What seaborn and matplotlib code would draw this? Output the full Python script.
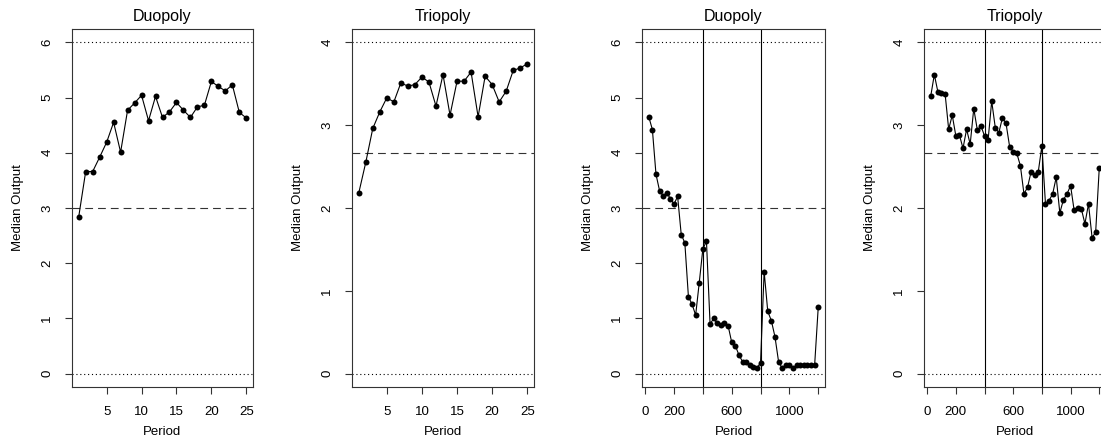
import numpy as np
import pandas as pd
import matplotlib
matplotlib.use("Agg")
import matplotlib.pyplot as plt
import seaborn as sns

# short runs: periods 1..25
short_periods = list(range(1, 26))
duo_short = [2.84, 3.66, 3.66, 3.92, 4.19, 4.55, 4.01, 4.77, 4.90, 5.04,
             4.58, 5.02, 4.64, 4.74, 4.91, 4.77, 4.64, 4.83, 4.86, 5.29,
             5.20, 5.12, 5.23, 4.73, 4.63]
tri_short = [2.18, 2.55, 2.96, 3.16, 3.33, 3.28, 3.51, 3.47, 3.49, 3.58,
             3.52, 3.23, 3.61, 3.12, 3.53, 3.53, 3.64, 3.10, 3.59, 3.49,
             3.28, 3.41, 3.66, 3.69, 3.74]

# long runs: periods 25..1200, every 25
long_periods = list(range(25, 1201, 25))
duo_long = [4.65, 4.42, 3.61, 3.31, 3.22, 3.27, 3.17, 3.07, 3.21, 2.52,
            2.37, 1.39, 1.26, 1.06, 1.65, 2.26, 2.40, 0.90, 1.00, 0.91,
            0.88, 0.91, 0.87, 0.57, 0.51, 0.34, 0.22, 0.21, 0.15, 0.13,
            0.10, 0.20, 1.85, 1.13, 0.96, 0.67, 0.22, 0.10, 0.15, 0.15,
            0.10, 0.15, 0.15, 0.15, 0.15, 0.15, 0.15, 1.20]
tri_long = [3.35, 3.61, 3.40, 3.39, 3.38, 2.95, 3.12, 2.87, 2.88, 2.72,
            2.95, 2.77, 3.20, 2.94, 2.99, 2.87, 2.82, 3.29, 2.97, 2.91,
            3.09, 3.02, 2.74, 2.68, 2.66, 2.51, 2.17, 2.25, 2.44, 2.40,
            2.44, 2.75, 2.05, 2.09, 2.17, 2.37, 1.94, 2.10, 2.17, 2.27,
            1.97, 2.00, 1.99, 1.81, 2.05, 1.64, 1.71, 2.48]

titles = ["Duopoly", "Triopoly", "Duopoly", "Triopoly"]
upper = [6, 4, 6, 4]          # dotted upper reference
nash = [3, 8 / 3, 3, 8 / 3]   # dashed reference
breaks = [400, 800]           # vertical lines in long runs

sns.set_style("ticks")
plt.rcParams["font.family"] = ["Liberation Sans", "DejaVu Sans"]
plt.rcParams["text.color"] = "black"
plt.rcParams["axes.labelcolor"] = "black"
plt.rcParams["xtick.labelcolor"] = "black"
plt.rcParams["ytick.labelcolor"] = "black"

W, H = 1101, 440
fig = plt.figure(figsize=(W / 100, H / 100), dpi=100)

lefts = [72, 352, 642, 924]
widths = [181, 182, 183, 182]
top_px, bot_px = 29, 387

panels = [
    (short_periods, duo_short),
    (short_periods, tri_short),
    (long_periods, duo_long),
    (long_periods, tri_long),
]

for i, (px, py) in enumerate(panels):
    ax = fig.add_axes([lefts[i] / W, (H - bot_px) / H,
                       widths[i] / W, (bot_px - top_px) / H])
    df = pd.DataFrame({"Period": px, "Output": py})

    ax.axhline(upper[i], color="black", lw=0.8, ls=(0, (1, 2.5)))
    ax.axhline(0, color="black", lw=0.8, ls=(0, (1, 2.5)))
    ax.axhline(nash[i], color="#333333", lw=0.8, ls=(0, (7, 4.5)))
    if i >= 2:
        for b in breaks:
            ax.axvline(b, color="black", lw=0.8)

    sns.lineplot(data=df, x="Period", y="Output", ax=ax, color="black",
                 marker="o", markersize=4.3, markeredgewidth=0,
                 linewidth=0.8)

    pad_y = upper[i] * 0.04
    ax.set_ylim(-pad_y, upper[i] + pad_y)
    ax.set_yticks(range(0, upper[i] + 1))
    ax.set_yticklabels([str(v) for v in range(0, upper[i] + 1)],
                       rotation=90, va="center")

    if i < 2:
        ax.set_xlim(1 - 0.96, 25 + 0.96)
        ax.set_xticks([5, 10, 15, 20, 25])
    else:
        ax.set_xlim(25 - 47, 1200 + 47)
        ticks = [0, 200, 400, 600, 800, 1000, 1200]
        ax.set_xticks(ticks)
        ax.set_xticklabels(["0", "200", "", "600", "", "1000", ""])

    ax.tick_params(direction="out", length=5, width=0.8, color="#333333",
                   labelsize=9.5, pad=8.5)
    for s in ax.spines.values():
        s.set_visible(True)
        s.set_color("#333333")
        s.set_linewidth(0.8)

    ax.set_title(titles[i], fontsize=11.5, pad=6)
    ax.set_xlabel("Period", fontsize=9.5)
    ax.set_ylabel("Median Output", fontsize=9.5)
    ax.xaxis.set_label_coords(0.5, -45 / (bot_px - top_px))
    ax.xaxis.label.set_va("center")
    ax.yaxis.set_label_coords(-54 / widths[i], 0.5)
    ax.yaxis.label.set_va("center")

fig.savefig("out.png", dpi=100)
